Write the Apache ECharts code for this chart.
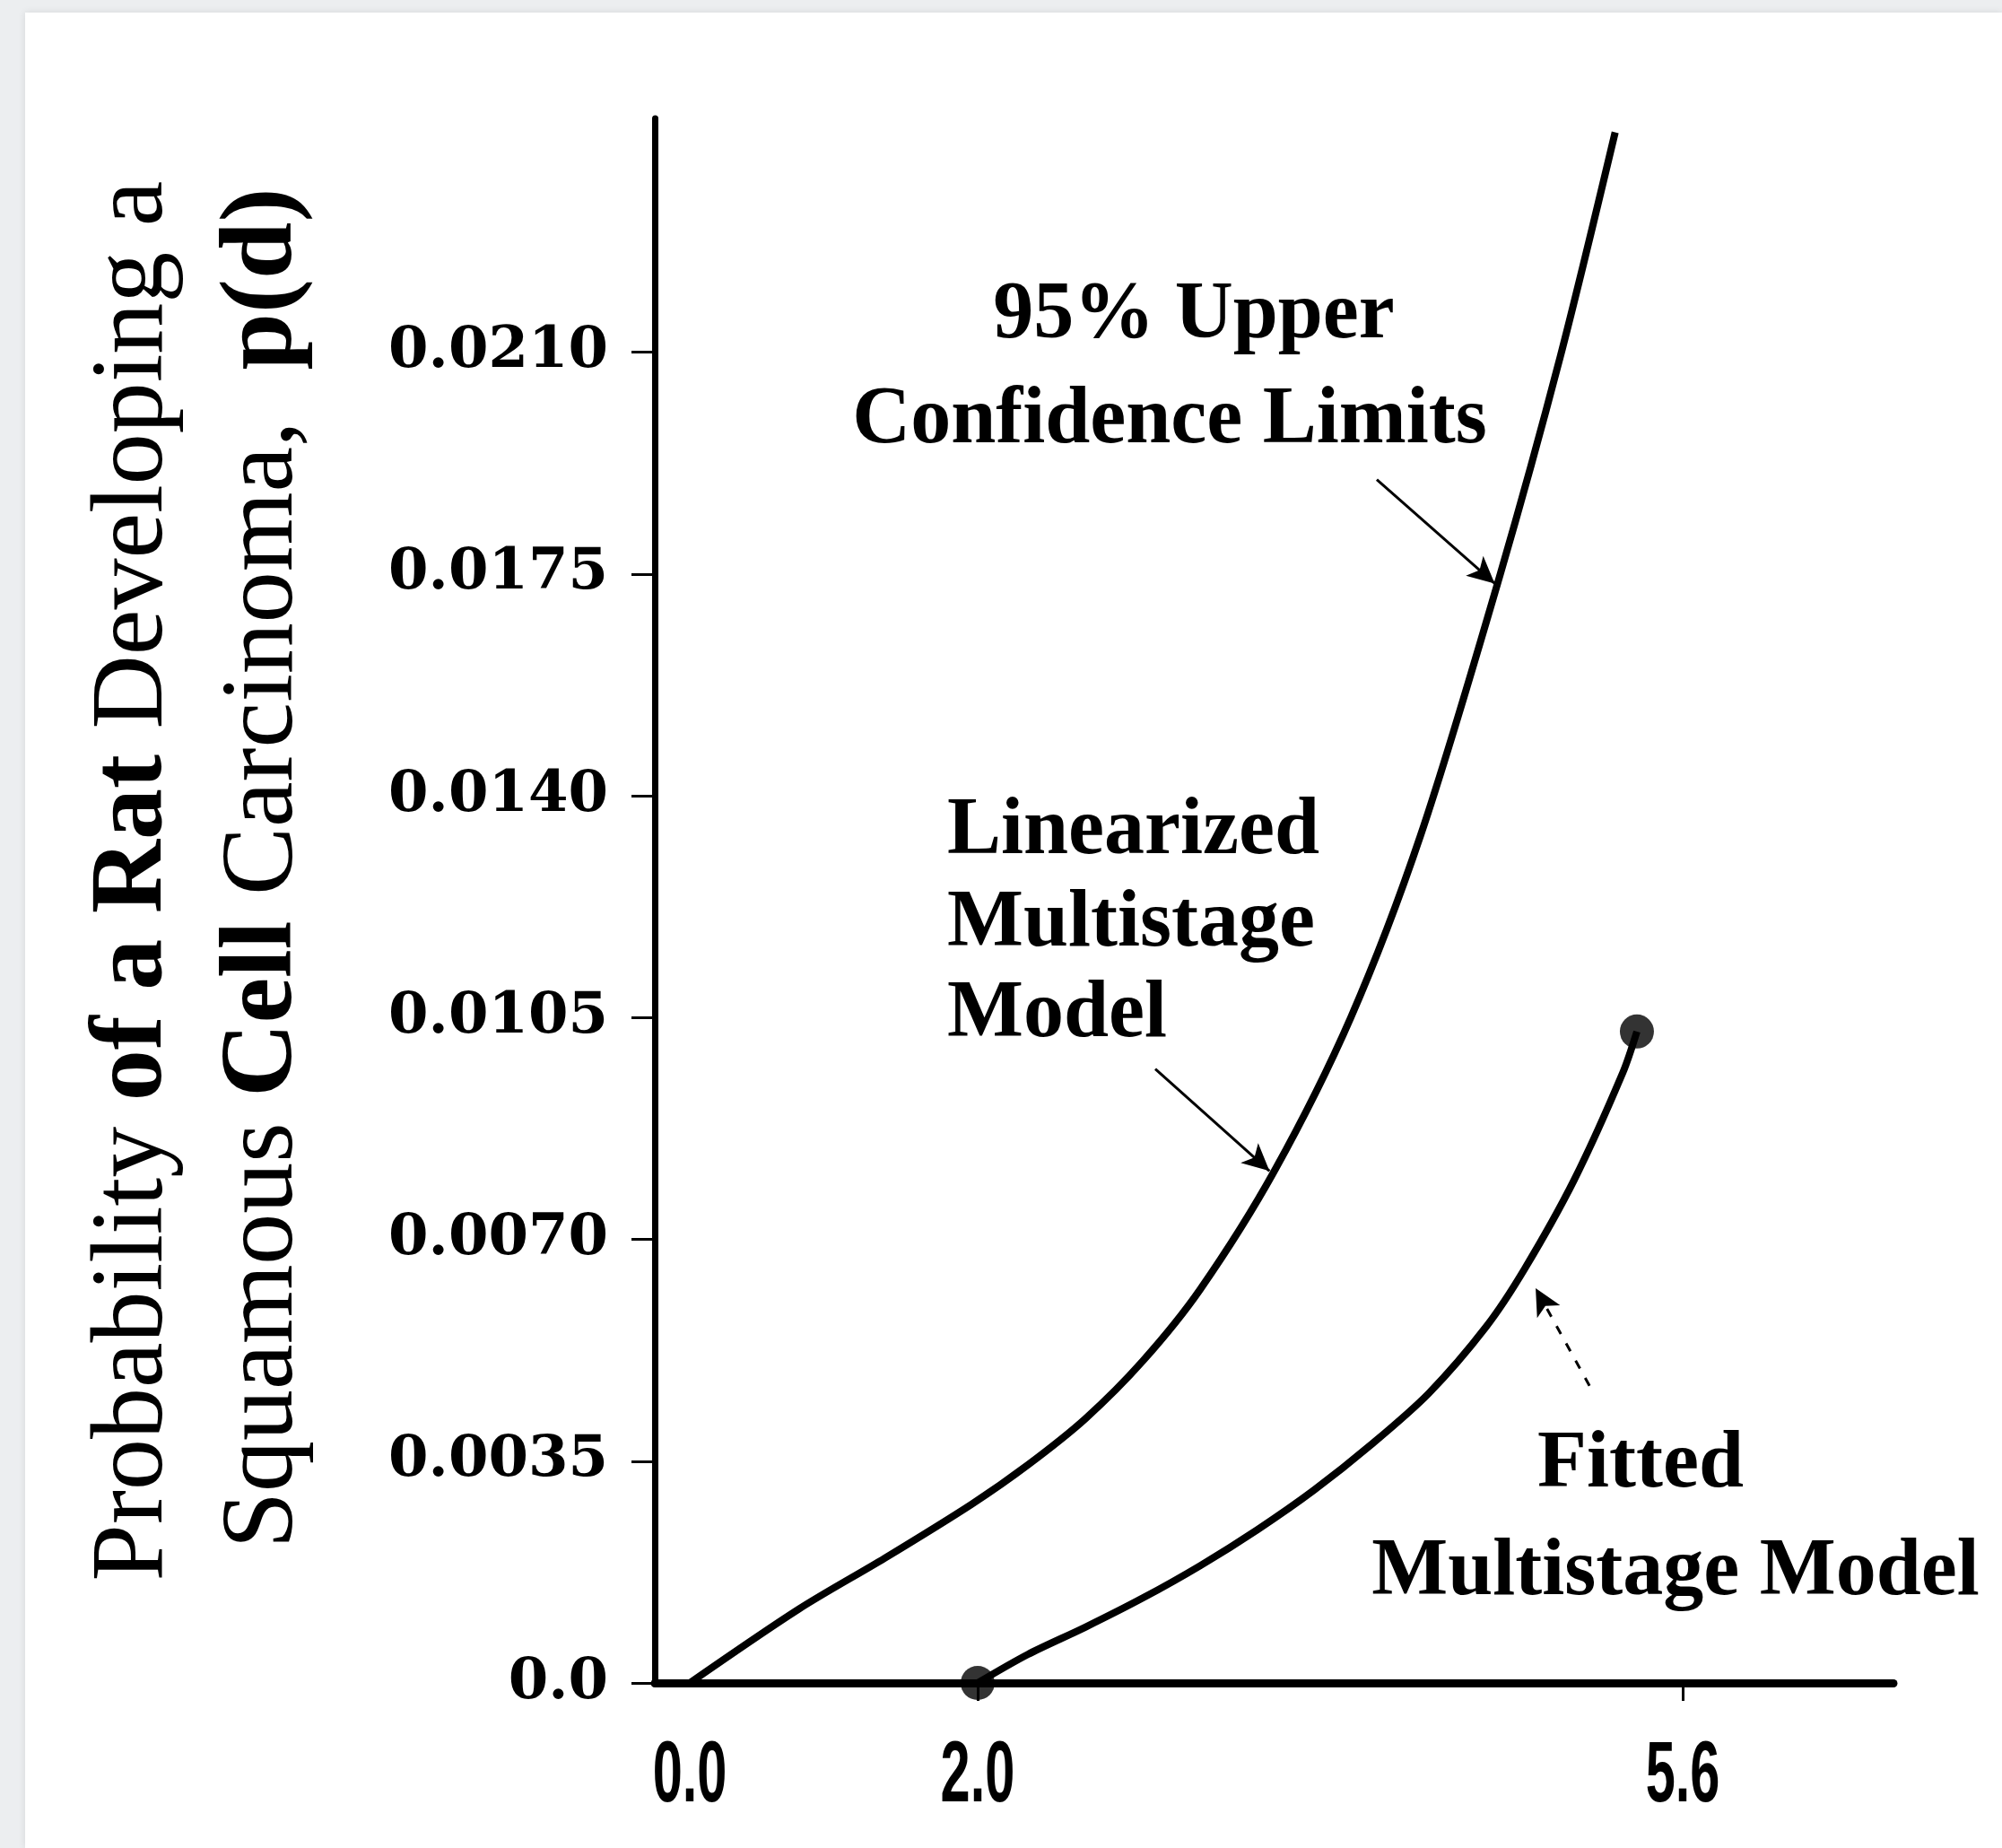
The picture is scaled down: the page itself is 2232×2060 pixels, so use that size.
<!DOCTYPE html>
<html>
<head>
<meta charset="utf-8">
<script src="https://cdn.jsdelivr.net/npm/echarts@6/dist/echarts.min.js"></script>
<style>
html,body{margin:0;padding:0;background:#eceef0;width:2232px;height:2060px;overflow:hidden}
#card{position:absolute;left:28px;top:14px;right:0;bottom:0;background:#fff;box-shadow:0 0 8px rgba(0,0,0,0.10)}
#chart{position:absolute;left:0;top:0;width:2232px;height:2060px}
</style>
</head>
<body>
<div id="card"></div>
<div id="chart"></div>
<script>
// ---- data (dose in ppm, probability p(d)) ----
const xTickValues = [0, 2.0, 5.6];
const yTickValues = [0, 0.0035, 0.0070, 0.0105, 0.0140, 0.0175, 0.0210];

// 95% upper confidence limits (linearized multistage model)
const uclDose = [0, 0.559, 1.526, 1.969, 2.256, 2.550, 2.843, 3.136, 3.515, 3.905, 4.262, 4.662, 4.974, 5.255];
const uclP    = [0, 0.00117, 0.00197, 0.00282, 0.00344, 0.00417, 0.00508, 0.00621, 0.00808, 0.01050, 0.01338, 0.01743, 0.02092, 0.02447];

// fitted multistage model
const fitDose = [2.0, 2.256, 2.550, 2.843, 3.136, 3.429, 3.716, 4.009, 4.303, 4.596, 4.792, 5.046, 5.294, 5.366];
const fitP    = [0, 0.00045, 0.00088, 0.00134, 0.00185, 0.00242, 0.00304, 0.00376, 0.00457, 0.00562, 0.00653, 0.00794, 0.00963, 0.01028];

// observed points marked on the fitted curve
const fitDotDose = [2.0, 5.366];
const fitDotP    = [0, 0.01028];

// annotation arrows [from, to] in data units
const arrowUcl    = [[4.038, 0.01899], [4.640, 0.01735]];
const arrowLinear = [[2.907, 0.00969], [3.490, 0.00808]];
const arrowFitted = [[5.124, 0.00469], [4.849, 0.00623]];

// ---- chart ----
const zip = (xs, ys) => xs.map((x, i) => [x, ys[i]]);
const tickFont = "'DejaVu Serif', 'Liberation Serif', serif";
const noteFont = "'Liberation Serif', 'DejaVu Serif', serif";
const xLabFont = "'Liberation Sans', 'DejaVu Sans', sans-serif";
const titleFont = "'Liberation Serif', 'DejaVu Serif', serif";

const chart = echarts.init(document.getElementById('chart'), null, {renderer: 'canvas'});

function arrowItem(a, dashed) {
  return [
    {coord: a[0], lineStyle: {type: dashed ? [10, 12] : 'solid'}},
    {coord: a[1]}
  ];
}

function note(id, text, x, y, align) {
  return {
    id: id, type: 'text', x: x, y: y,
    style: {text: text, fontFamily: noteFont, fontWeight: 'bold', fontSize: 90, fill: '#000',
      align: align, verticalAlign: 'middle', textAlign: align, textVerticalAlign: 'middle'}
  };
}

const richTitle = {
  n: {fontFamily: titleFont, fontSize: 114, fontWeight: 'normal', fill: '#000'},
  b: {fontFamily: titleFont, fontSize: 114, fontWeight: 'bold', fill: '#000'}
};

const baseGraphics = [
  note('n1', '95% Upper', 1331, 353, 'center'),
  note('n2', 'Confidence Limits', 1304, 470, 'center'),
  note('n3', 'Linearized', 1056, 928, 'left'),
  note('n4', 'Multistage', 1056, 1031, 'left'),
  note('n5', 'Model', 1056, 1132, 'left'),
  note('n6', 'Fitted', 1829, 1634, 'center'),
  note('n7', 'Multistage Model', 1868, 1754, 'center'),
  {
    id: 't1', type: 'text', x: 150, y: 982, rotation: Math.PI / 2,
    style: {
      text: '{n|Probability }{b|of a Rat}{n| Developing a}',
      fill: '#000', align: 'center', verticalAlign: 'middle', textAlign: 'center', textVerticalAlign: 'middle',
      rich: richTitle
    }
  },
  {
    id: 't2', type: 'text', x: 295, y: 968, rotation: Math.PI / 2,
    style: {
      text: '{n|Squamous }{b|Cell}{n| Carcinoma,  }{b|p(d)}',
      fill: '#000', align: 'center', verticalAlign: 'middle', textAlign: 'center', textVerticalAlign: 'middle',
      rich: richTitle
    }
  }
];

const option = {
  animation: false,
  backgroundColor: 'transparent',
  grid: {left: 730, right: 121, top: 132, bottom: 184, containLabel: false},
  xAxis: [
    {
      type: 'value',
      min: -0.1786,
      max: 6.676,
      breaks: [{start: 0.6, end: 1.4, gap: 0.27}],
      breakArea: {show: false},
      axisLine: {show: false},
      axisTick: {show: true, customValues: [2.0, 5.6], length: 20, lineStyle: {color: '#000', width: 3}},
      axisLabel: {show: false, customValues: xTickValues},
      splitLine: {show: false}
    },
    {
      // continuous base line of the dose axis
      type: 'value',
      position: 'bottom',
      min: 0,
      max: 1,
      axisLine: {show: true, onZero: false, lineStyle: {color: '#000', width: 9}},
      axisTick: {show: false},
      axisLabel: {show: false},
      splitLine: {show: false}
    }
  ],
  yAxis: {
    type: 'value',
    min: 0,
    max: 0.02469,
    axisLine: {show: true, onZero: false, lineStyle: {color: '#000', width: 7}},
    axisTick: {show: true, customValues: yTickValues, length: 26, lineStyle: {color: '#000', width: 3}},
    axisLabel: {
      customValues: yTickValues,
      formatter: v => (v === 0 ? '0.0' : v.toFixed(4)),
      margin: 52,
      color: '#000',
      fontFamily: tickFont,
      fontWeight: 'bold',
      fontSize: 64
    },
    splitLine: {show: false}
  },
  series: [
    {
      name: '95% Upper Confidence Limits',
      type: 'line',
      data: zip(uclDose, uclP),
      showSymbol: false,
      smooth: 0.3,
      lineStyle: {color: '#000', width: 8},
      z: 3
    },
    {
      name: 'Fitted Multistage Model',
      type: 'line',
      data: zip(fitDose, fitP),
      showSymbol: false,
      smooth: 0.3,
      lineStyle: {color: '#000', width: 8},
      z: 3
    },
    {
      name: 'Observed',
      type: 'scatter',
      data: zip(fitDotDose, fitDotP),
      symbol: 'circle',
      symbolSize: 38,
      itemStyle: {color: '#000'},
      z: 4,
      markLine: {
        silent: true,
        symbol: ['none', 'arrow'],
        symbolSize: [22, 30],
        label: {show: false},
        lineStyle: {color: '#000', width: 3},
        data: [arrowItem(arrowUcl, false), arrowItem(arrowLinear, false), arrowItem(arrowFitted, true)]
      }
    }
  ],
  graphic: baseGraphics
};

chart.setOption(option);

// dose-axis tick labels, placed through the axis scale (condensed lettering)
const xLabelGraphics = xTickValues.map((v, i) => ({
  id: 'xl' + i,
  type: 'text',
  x: chart.convertToPixel({xAxisIndex: 0}, v),
  y: 1982,
  scaleX: 0.62,
  style: {text: v.toFixed(1), fontFamily: xLabFont, fontWeight: 'bold', fontSize: 96, fill: '#000',
    align: 'center', verticalAlign: 'middle', textAlign: 'center', textVerticalAlign: 'middle'}
}));
chart.setOption({graphic: baseGraphics.concat(xLabelGraphics)});
</script>
</body>
</html>
